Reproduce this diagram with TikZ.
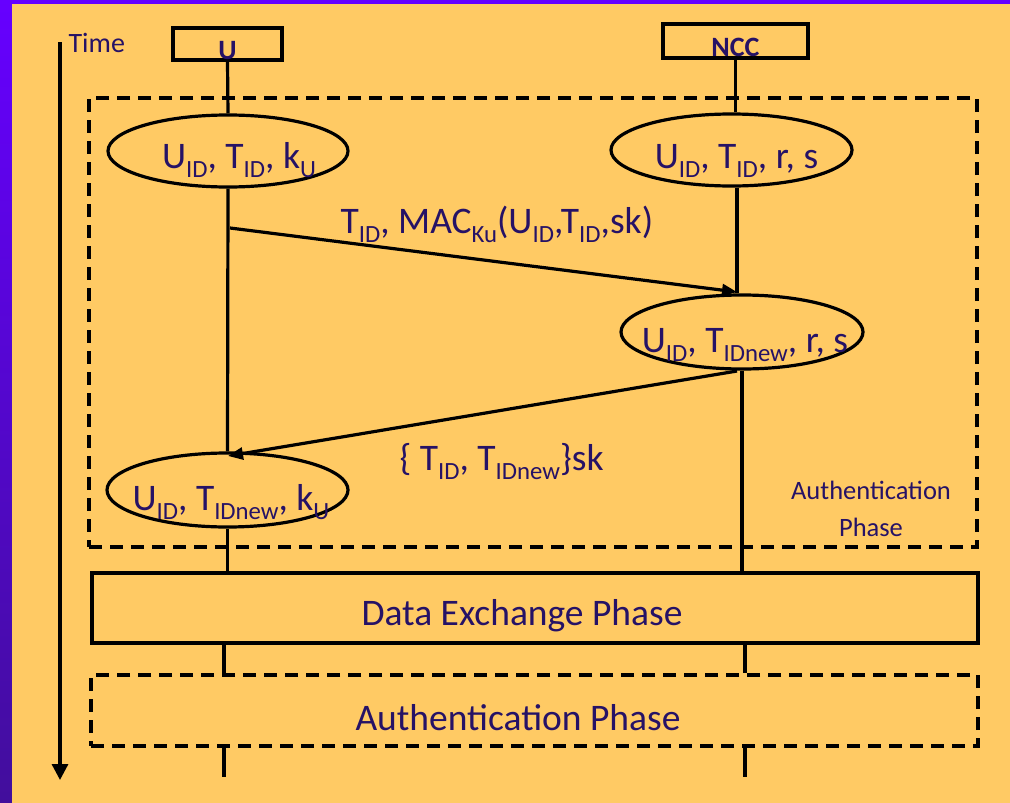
\documentclass[tikz,border=0pt]{standalone}
\usepackage{fontspec}
\setmainfont{Carlito}
\usetikzlibrary{arrows.meta,shapes.geometric}
\definecolor{edgepurple}{HTML}{6600FF}
\definecolor{deeppurple}{HTML}{420E9C}
\definecolor{bgorange}{HTML}{FFCA64}
\definecolor{inknavy}{HTML}{261266}
% lowered, smaller index text
\newcommand\lo[1]{\raisebox{-0.24em}{\scalebox{0.66}{#1}}}
\begin{document}
\begin{tikzpicture}[x=1pt,y=-1pt,line width=3.2pt,
  txt/.style={text=inknavy,font=\fontsize{37.5}{44}\selectfont,inner sep=0pt},
  smalltxt/.style={text=inknavy,font=\fontsize{26.5}{37}\selectfont,inner sep=0pt},
  party/.style={draw,inner sep=0pt,text=inknavy,font=\fontsize{28}{32}\selectfont\bfseries,
    text height=30pt,text depth=0pt},
  ell/.style={draw,ellipse,inner sep=0pt},
  phasebox/.style={draw,inner sep=0pt},
  dashbox/.style={draw,dash pattern=on 13pt off 8pt,inner sep=0pt},
  msg/.style={-{Triangle[length=15pt,width=12pt]}}]
% background frame
\fill[edgepurple] (0,0) rectangle (1010,803);
\shade[top color=edgepurple,bottom color=deeppurple] (0,0) rectangle (12,803);
\fill[bgorange] (12,4) rectangle (1010,803);
\useasboundingbox (0,0) rectangle (1010,803);

% time axis
\coordinate (t0) at (60,42);
\coordinate (t1) at (60,780);
\draw[-{Triangle[length=16pt,width=16pt]}] (t0) -- (t1);
\node[txt,font=\fontsize{28}{32}\selectfont,anchor=base west] (time) at (67,52) {Time};

% parties
\node[party,minimum width=109pt,minimum height=32pt] (ubox) at (227.5,44) {U};
\node[party,minimum width=145pt,minimum height=34pt] (nbox) at (735.5,41) {NCC};

% authentication phase frame
\node[dashbox,minimum width=888pt,minimum height=449pt] (auth1) at (533,322.5) {};

% states
\node[ell,minimum width=240pt,minimum height=72pt] (e1) at (228,151) {};
\node[ell,minimum width=241pt,minimum height=72pt] (e2) at (731.5,150) {};
\node[ell,minimum width=242pt,minimum height=74pt] (e3) at (742,332) {};
\node[ell,minimum width=241pt,minimum height=74pt] (e4) at (227.5,490) {};
\node[txt,anchor=base] (e1t) at (239,168) {U\lo{ID}, T\lo{ID}, k\lo{U}};
\node[txt,anchor=base] (e2t) at (736.5,168) {U\lo{ID}, T\lo{ID}, r, s};
\node[txt,anchor=base] (e3t) at (745,352) {U\lo{ID}, T\lo{IDnew}, r, s};
\node[txt,anchor=base] (e4t) at (231,510) {U\lo{ID}, T\lo{IDnew}, k\lo{U}};

% lifeline positions
\coordinate (nx) at (737,0);
\coordinate (ux2) at (224,0);
\coordinate (nx2) at (745,0);

% lifelines
\draw (ubox.south) -- (e1.north);
\draw (nbox.south) -- (nbox.south |- e2.north);
\draw (e1.south) -- (e4.north);
\draw (e2.south -| nx) -- (e3.north -| nx);

% messages
\coordinate (m1a) at (230,228);
\coordinate (m1b) at (737,292);
\draw[msg] (m1a) -- (m1b);
\node[txt,anchor=base west] (m1t) at (339,233) {T\lo{ID}, MAC\lo{Ku}(U\lo{ID},T\lo{ID},sk)};
\coordinate (m2a) at (737,371);
\coordinate (m2b) at (228,456);
\draw[msg] (m2a) -- (m2b);
\node[txt,anchor=base west] (m2t) at (398,470) {\{ T\lo{ID}, T\lo{IDnew}\}sk};

\node[smalltxt,anchor=base] (a1t) at (871,499) {Authentication};
\node[smalltxt,anchor=base] (a1t2) at (871,536) {Phase};

% data exchange phase
\node[phasebox,minimum width=886pt,minimum height=70pt] (dex) at (535,608) {};
\node[txt,anchor=base] (dext) at (522,625) {Data Exchange Phase};
\draw (e4.south) -- (e4.south |- dex.north);
\draw (e3.south) -- (e3.south |- dex.north);

% next authentication phase
\node[dashbox,minimum width=887pt,minimum height=71pt] (auth2) at (534.5,710.5) {};
\node[txt,anchor=base] (auth2t) at (518,730) {Authentication Phase};
\draw (dex.south -| ux2) -- (auth2.north -| ux2);
\draw (dex.south -| nx2) -- (auth2.north -| nx2);
\coordinate (uend) at (224,777);
\coordinate (nend) at (745,777);
\draw (auth2.south -| ux2) -- (uend);
\draw (auth2.south -| nx2) -- (nend);
\end{tikzpicture}
\end{document}
